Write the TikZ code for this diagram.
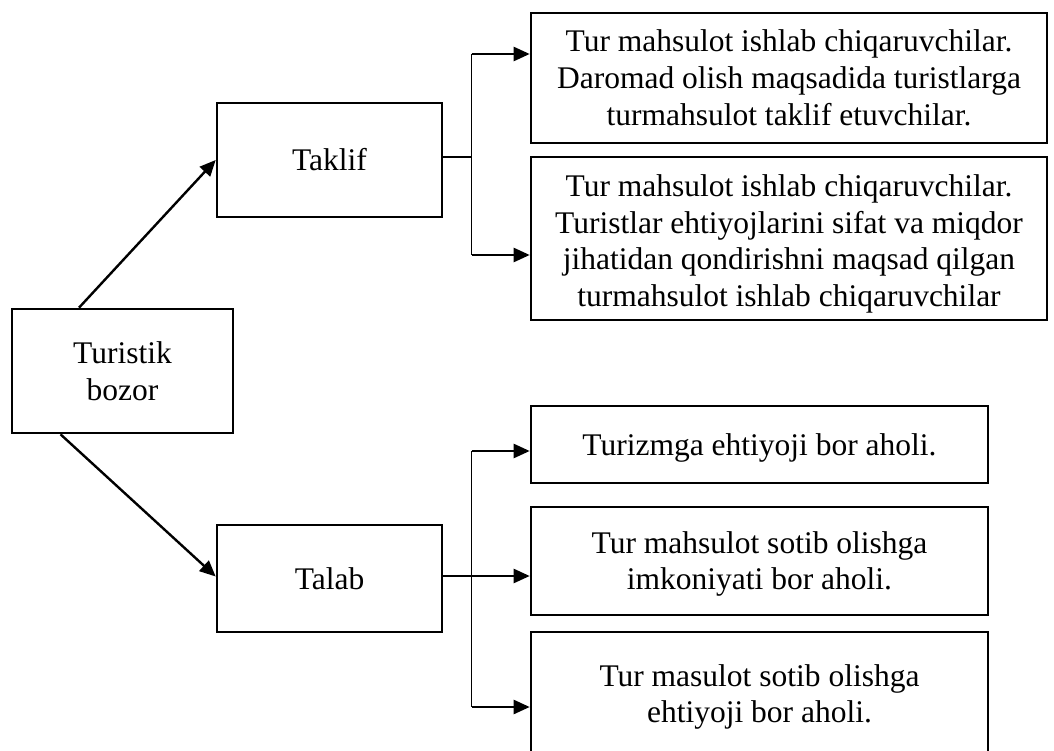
\documentclass[tikz,border=0pt]{standalone}
\usepackage{fontspec}
\setmainfont{Liberation Serif}
\usetikzlibrary{arrows.meta}

\tikzset{
  box/.style={draw, line width=2.6pt, inner sep=0pt, align=center,
              font=\fontsize{31.5}{36.8}\selectfont},
  txt/.style={inner sep=0pt, align=center, font=\fontsize{31.5}{36.8}\selectfont},
  arr/.style={line width=2.4pt, -{Triangle[length=16pt,width=14pt]}},
  link/.style={line width=1.3pt}
}

\begin{document}
\begin{tikzpicture}[x=1pt,y=-1pt]
\useasboundingbox (0,0) rectangle (1054,751);

% main boxes
\node[box, minimum width=221pt, minimum height=124pt] (tb) at (122.5,371) {Turistik\\bozor};
\node[box, minimum width=225pt, minimum height=114pt] (taklif) at (329.5,160) {Taklif};
\node[box, minimum width=225pt, minimum height=107pt] (talab) at (329.5,578.5) {Talab};

% supply side
\node[box, minimum width=516pt, minimum height=130pt] (t1) at (789,78)
  {Tur mahsulot ishlab chiqaruvchilar.\\Daromad olish maqsadida turistlarga\\turmahsulot taklif etuvchilar.};
\node[box, minimum width=516pt, minimum height=163pt] (t2) at (789,238.5) {};
\begin{scope}
  \clip (t2.north west) rectangle (t2.south east);
  \node[txt] (t2text) at (789,244)
    {Tur mahsulot ishlab chiqaruvchilar.\\Turistlar ehtiyojlarini sifat va miqdor\\jihatidan qondirishni maqsad qilgan\\turmahsulot ishlab chiqaruvchilar};
\end{scope}

% demand side
\node[box, minimum width=457pt, minimum height=77pt] (b1) at (759.5,444.5) {};
\node[txt] (b1text) at (759.5,447.5) {Turizmga ehtiyoji bor aholi.};
\node[box, minimum width=457pt, minimum height=108pt] (b2) at (759.5,561) {};
\node[txt] (b2text) at (759.5,564) {Tur mahsulot sotib olishga\\imkoniyati bor aholi.};
\node[box, minimum width=457pt, minimum height=126pt] (b3) at (759.5,695) {};
\node[txt] (b3text) at (759.5,697) {Tur masulot sotib olishga\\ehtiyoji bor aholi.};

% market -> supply / demand
\draw[arr] ([xshift=-43.5pt]tb.north) -- (taklif.west);
\draw[arr] ([xshift=-62pt]tb.south) -- ([yshift=2pt]talab.west);

% supply bracket
\coordinate (jt1) at (471.7,54);
\coordinate (jt2) at (471.7,255);
\coordinate (jt0) at (471.7,157);
\draw[link] ([yshift=3pt]taklif.east) -- (jt0);
\draw[link] (jt1) -- (jt2);
\draw[arr] (jt1) -- (jt1 -| t1.west);
\draw[arr] (jt2) -- (jt2 -| t2.west);

% demand bracket
\coordinate (jb1) at (471.7,451);
\coordinate (jb3) at (471.7,707);
\draw[link] (jb1) -- (jb3);
\draw[arr] (jb1) -- (jb1 -| b1.west);
\draw[arr] ([yshift=2.5pt]talab.east) -- ([yshift=2.5pt]talab.east -| b2.west);
\draw[arr] (jb3) -- (jb3 -| b3.west);
\end{tikzpicture}
\end{document}
